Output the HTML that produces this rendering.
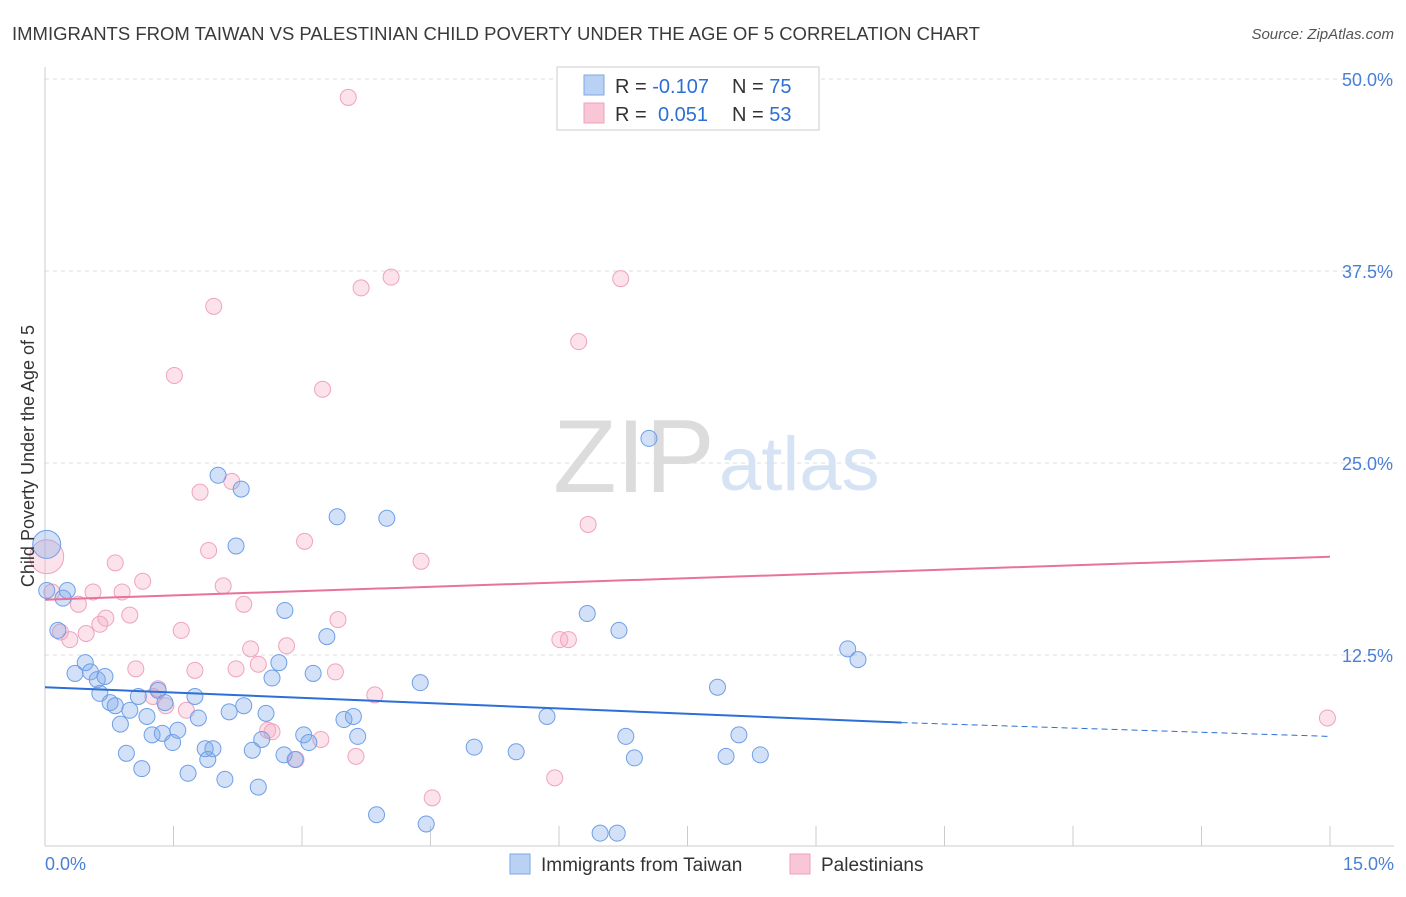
<!DOCTYPE html>
<html><head><meta charset="utf-8"><style>
body{margin:0;background:#fff;font-family:"Liberation Sans",sans-serif;}
svg text{font-family:"Liberation Sans",sans-serif;}
</style></head><body>
<svg id="chart" width="1406" height="892" xmlns="http://www.w3.org/2000/svg">
<text x="12" y="40" font-size="18.5" fill="#3a3a3a">IMMIGRANTS FROM TAIWAN VS PALESTINIAN CHILD POVERTY UNDER THE AGE OF 5 CORRELATION CHART</text>
<text x="1394" y="39" font-size="15" fill="#555" font-style="italic" text-anchor="end">Source: ZipAtlas.com</text>
<g id="grid"></g>
<text x="553" y="492" font-size="104" fill="#dcdcdc" font-family="Liberation Serif">ZIP</text>
<text x="719" y="490" font-size="76" fill="#d5e3f5">atlas</text>
<g id="axes"></g>
<g id="marks"></g>
<text transform="translate(34,456) rotate(-90)" font-size="18" fill="#333" text-anchor="middle">Child Poverty Under the Age of 5</text>
<text x="45" y="870" font-size="18" fill="#4a7fd6">0.0%</text>
<text x="1394" y="870" font-size="18" fill="#4a7fd6" text-anchor="end">15.0%</text>
<g>
<rect x="557" y="67" width="262" height="63" fill="#fff" stroke="#ccc"/>
<rect x="584" y="75" width="20" height="20" fill="#b9d1f3" stroke="#7fa6e6"/>
<rect x="584" y="103" width="20" height="20" fill="#f9c6d6" stroke="#eda3bb"/>
<text x="615" y="93" font-size="20" fill="#333">R = <tspan fill="#2c6fd6">-0.107</tspan></text>
<text x="732" y="93" font-size="20" fill="#333">N = <tspan fill="#2c6fd6">75</tspan></text>
<text x="615" y="121" font-size="20" fill="#333">R = <tspan fill="#2c6fd6" x="658">0.051</tspan></text>
<text x="732" y="121" font-size="20" fill="#333">N = <tspan fill="#2c6fd6">53</tspan></text>
</g>
<g>
<rect x="510" y="854" width="20" height="20" fill="#b9d1f3" stroke="#7fa6e6"/>
<text x="541" y="871" font-size="19" fill="#333">Immigrants from Taiwan</text>
<rect x="790" y="854" width="20" height="20" fill="#f9c6d6" stroke="#eda3bb"/>
<text x="821" y="871" font-size="19" fill="#333">Palestinians</text>
</g>
</svg>
<script>
const yTicks=[12.5,25,37.5,50];
const yTickLabels=["12.5%","25.0%","37.5%","50.0%"];
const xTicks=[0,1.5,3,4.5,6,7.5,9,10.5,12,13.5,15];
const blueX=[.02,.02,.26,.21,.15,.35,.47,.53,.61,.70,.64,.76,.82,.99,1.09,.88,1.19,1.32,1.40,1.25,1.37,1.49,1.55,1.75,1.79,.95,1.13,1.67,1.87,1.96,1.90,2.10,2.02,2.29,2.23,2.15,2.32,2.58,2.53,2.42,2.49,2.65,2.73,2.80,2.79,2.92,3.02,3.08,3.13,3.29,3.41,3.49,3.60,3.65,3.99,3.87,4.38,4.45,5.01,5.50,5.86,6.33,6.70,7.05,6.78,6.88,6.48,6.68,7.85,8.10,7.95,8.35,9.37,9.49];
const blueY=[19.7,16.7,16.7,16.2,14.1,11.3,12.0,11.4,10.9,11.1,10.0,9.4,9.2,8.9,9.8,8.0,8.5,10.2,9.4,7.3,7.4,6.8,7.6,9.8,8.4,6.1,5.1,4.8,6.4,6.4,5.7,4.4,24.2,23.3,19.6,8.8,9.2,8.7,7.0,6.3,3.9,11.0,12.0,15.4,6.0,5.7,7.3,6.8,11.3,13.7,21.5,8.3,8.5,7.2,21.4,2.1,10.7,1.5,6.5,6.2,8.5,15.2,14.1,26.6,7.2,5.8,0.9,0.9,10.4,7.3,5.9,6.0,12.9,12.2];
const pinkX=[.02,.08,.18,.29,.39,.48,.56,.64,.71,.82,.90,.99,1.14,1.06,1.26,1.32,1.41,1.59,1.65,1.51,1.75,1.81,1.91,1.97,2.08,2.18,2.23,2.32,2.40,2.49,2.60,2.65,2.82,2.93,3.03,3.22,3.24,3.39,3.42,3.54,3.69,3.63,3.85,4.04,4.39,4.52,5.95,6.01,6.11,6.23,6.34,6.72,14.97];
const pinkY=[18.9,16.6,14.0,13.5,15.8,13.9,16.6,14.5,14.9,18.5,16.6,15.1,17.3,11.6,9.8,10.3,9.2,14.1,8.9,30.7,11.5,23.1,19.3,35.2,17.0,23.8,11.6,15.8,12.9,11.9,7.6,7.5,13.1,5.7,19.9,7.0,29.8,11.4,14.8,48.8,36.4,5.9,9.9,37.1,18.6,3.2,4.5,13.5,13.5,32.9,21.0,37.0,8.4];
const blueTrend=[[0,10.4],[10,8.1],[15,7.2]];
const pinkTrend=[[0,16.1],[15,18.9]];
const NS="http://www.w3.org/2000/svg";
const sx=v=>45+v/15*1285, sy=v=>847-v/50*768;
function mk(t,a,p){const e=document.createElementNS(NS,t);for(const k in a)e.setAttribute(k,a[k]);p.appendChild(e);return e;}
const grid=document.getElementById('grid'),axes=document.getElementById('axes'),marks=document.getElementById('marks');
yTicks.forEach((v,i)=>{
 const l=mk('line',{x1:45,x2:1394,y1:sy(v),y2:sy(v),stroke:'#ddd','stroke-dasharray':'4,4'},grid);
 
 
 const t=mk('text',{x:1393,y:sy(v)+7,'font-size':18,fill:'#4a7fd6','text-anchor':'end'},axes);
 t.textContent=yTickLabels[i];
 
 
});
mk('line',{x1:45,x2:1394,y1:79,y2:79,stroke:'#ddd','stroke-dasharray':'4,4'},grid);
mk('line',{x1:45,x2:45,y1:67,y2:846,stroke:'#ccc'},axes);
mk('line',{x1:45,x2:1394,y1:846,y2:846,stroke:'#ccc'},axes);
xTicks.forEach(v=>{const t=mk('line',{x1:sx(v),x2:sx(v),y1:826,y2:846,stroke:'#ccc'},axes);
 
 });
function pts(X,Y,fill,stroke,name){X.forEach((x,i)=>{
 const r=(i===0)?(name==='pink-point'?17:14):8;
 const c=mk('circle',{cx:sx(x),cy:sy(Y[i]),r:r,fill:fill,stroke:stroke,'stroke-width':1},marks);
 
 });}
pts(pinkX,pinkY,'rgba(246,172,196,0.35)','#efa3bd','pink-point');
pts(blueX,blueY,'rgba(125,168,232,0.35)','#6e9fe8','blue-point');
let b1=mk('line',{x1:sx(blueTrend[0][0]),y1:sy(blueTrend[0][1]),x2:sx(blueTrend[1][0]),y2:sy(blueTrend[1][1]),stroke:'#2c6fd6','stroke-width':2},marks);


let b2=mk('line',{x1:sx(blueTrend[1][0]),y1:sy(blueTrend[1][1]),x2:sx(blueTrend[2][0]),y2:sy(blueTrend[2][1]),stroke:'#2c6fd6','stroke-width':1,'stroke-dasharray':'6,4'},marks);


let p1=mk('line',{x1:sx(pinkTrend[0][0]),y1:sy(pinkTrend[0][1]),x2:sx(pinkTrend[1][0]),y2:sy(pinkTrend[1][1]),stroke:'#e9729a','stroke-width':2},marks);


</script>
</body></html>
